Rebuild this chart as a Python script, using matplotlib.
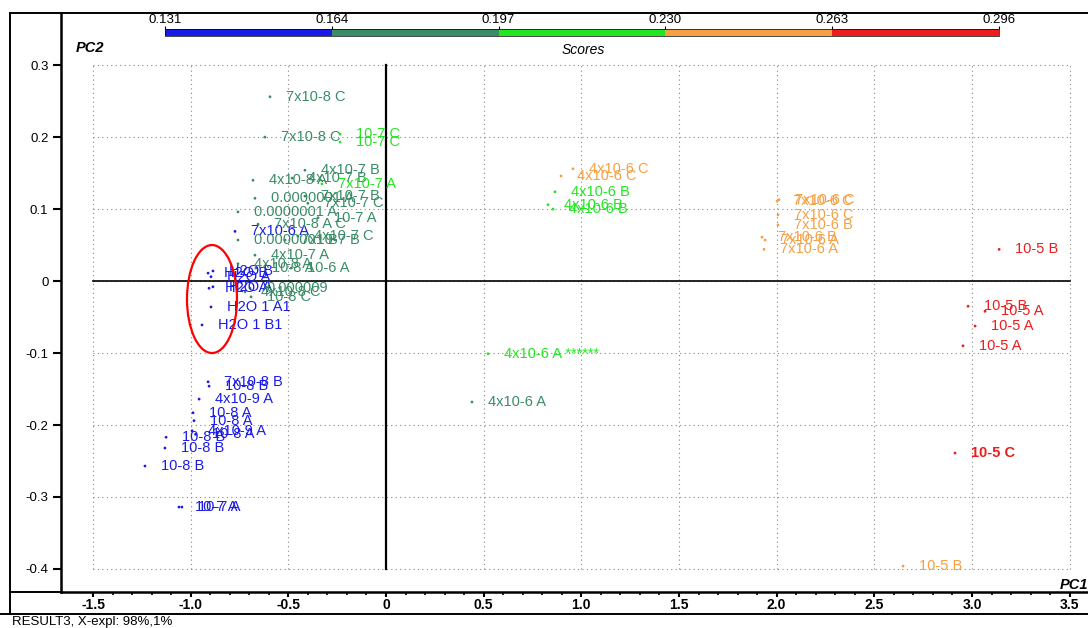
"""scores_plot.py
PCA scores plot (PC1 vs PC2), points coloured by score bins.
"""

import matplotlib
matplotlib.use("Agg")
import matplotlib.pyplot as plt
import numpy as np
from matplotlib.colors import ListedColormap, BoundaryNorm
from matplotlib.colorbar import ColorbarBase
from matplotlib.lines import Line2D
from matplotlib.patches import Ellipse

plt.rcParams["font.family"] = ["Liberation Sans", "DejaVu Sans"]

# score bins and colours
SCORE_BOUNDS = [0.131, 0.164, 0.197, 0.230, 0.263, 0.296]
SCORE_COLORS = ["#1b1be8", "#3a8c66", "#22e622", "#f5a043", "#ee1c1c"]

# ---- sample labels / PC1 / PC2 / score ----
LABELS = [
    # blue
    "7x10-6 A", "H2O B", "H2O B", "H2O A", "H2O A", "H2O A", "H2O 1 A1", "H2O 1 B1",
    "7x10-8 B", "10-8 B", "4x10-9 A", "10-8 A", "10-8 A", "4x10-9 A", "10-8 A",
    "10-8 B", "10-8 B", "10-8 B", "10-7 A", "10-7 A",
    # sea green
    "7x10-8 C", "7x10-8 C", "4x10-7 B", "4x10-8 A", "4x10-7 B", "0.0000001 A",
    "7x10-7 B", "7x10-7 C", "0.0000001 A", "10-7 A", "7x10-8 A C", "4x10-7 C",
    "0.0000001 B", "7x10-7 B", "4x10-7 A", "4x10-8 A", "10-8 A", "10-6 A",
    "0.000009", "4x10-8 C", "10-8 C", "4x10-6 A",
    # green
    "10-7 C", "10-7 C", "7x10-7 A", "4x10-6 B", "4x10-6 B", "4x10-6 B",
    "4x10-6 A ******",
    # orange
    "4x10-6 C", "4x10-6 C", "7x10-6 C", "7x10-6 C", "7x10-6 C", "7x10-6 B",
    "7x10-6 B", "7x10-6 A", "7x10-6 A", "10-5 B",
    # red
    "10-5 B", "10-5 B", "10-5 A", "10-5 A", "10-5 A", "10-5 C",
]
PC1 = [
    -0.773, -0.911, -0.886, -0.896, -0.906, -0.886, -0.896, -0.942,
    -0.911, -0.906, -0.957, -0.988, -0.983, -0.993, -0.975,
    -1.126, -1.132, -1.234, -1.060, -1.045,
    -0.594, -0.620, -0.415, -0.681, -0.481, -0.671,
    -0.415, -0.400, -0.758, -0.348, -0.655, -0.451,
    -0.758, -0.517, -0.671, -0.758, -0.666, -0.486,
    -0.696, -0.722, -0.691, 0.440,
    -0.235, -0.235, -0.328, 0.865, 0.829, 0.855,
    0.522,
    0.957, 0.896, 2.002, 2.012, 2.007, 2.007,
    1.925, 1.941, 1.935, 2.647,
    3.139, 2.980, 3.067, 3.016, 2.954, 2.913,
]
PC2 = [
    0.069, 0.011, 0.014, 0.006, -0.010, -0.008, -0.036, -0.061,
    -0.140, -0.146, -0.164, -0.183, -0.194, -0.208, -0.213,
    -0.217, -0.232, -0.257, -0.314, -0.314,
    0.256, 0.200, 0.154, 0.140, 0.143, 0.115,
    0.118, 0.108, 0.096, 0.088, 0.079, 0.0625,
    0.057, 0.057, 0.036, 0.024, 0.018, 0.018,
    -0.010, -0.015, -0.022, -0.168,
    0.204, 0.193, 0.135, 0.124, 0.106, 0.100,
    -0.101,
    0.156, 0.146, 0.111, 0.113, 0.092, 0.078,
    0.061, 0.057, 0.044, -0.396,
    0.044, -0.035, -0.042, -0.0625, -0.090, -0.239,
]
SCORES = (
    [0.145] * 20
    + [0.180] * 22
    + [0.212] * 7
    + [0.245] * 10
    + [0.280] * 6
)
BOLD_LABELS = {"10-5 C"}

W, H = 1088, 628


def fx(px):
    return px / W


def fy(py):
    return 1 - py / H


cmap = ListedColormap(SCORE_COLORS)
norm = BoundaryNorm(SCORE_BOUNDS, cmap.N)

fig = plt.figure(figsize=(W / 100, H / 100), dpi=100)
ax = fig.add_axes([fx(61), fy(592), fx(W) - fx(61), fy(14) - fy(592)])
ax.set_xlim(-1.664, 3.594)
ax.set_ylim(-0.432, 0.371)
for side in ("top", "right"):
    ax.spines[side].set_visible(False)
ax.spines["left"].set_linewidth(1.8)
ax.spines["bottom"].set_linewidth(1.8)

xticks = np.arange(-1.5, 3.51, 0.5)
yticks = np.arange(-0.4, 0.31, 0.1)
ax.set_xticks(xticks)
ax.set_xticklabels(["0" if abs(v) < 1e-9 else f"{v:.1f}" for v in xticks],
                   fontsize=10, fontweight="bold")
ax.set_xticks(np.arange(-1.5, 3.51, 0.1), minor=True)
ax.set_yticks(yticks)
ax.set_yticklabels(["0" if abs(v) < 1e-9 else f"{v:.1f}" for v in yticks],
                   fontsize=9.5)
ax.tick_params(axis="x", which="major", direction="out", length=3.5, width=1.5, pad=0.5)
ax.tick_params(axis="x", which="minor", direction="out", length=2.5, width=1.2)
ax.tick_params(axis="y", which="major", direction="out", length=6, width=1.5, pad=3)

# dotted grid, limited to the tick range
for xv in xticks:
    ax.plot([xv, xv], [-0.4, 0.3], ls=(0, (1, 3)), color="#888888", lw=0.8, zorder=0)
for yv in yticks:
    ax.plot([-1.5, 3.5], [yv, yv], ls=(0, (1, 3)), color="#888888", lw=0.8, zorder=0)

# origin cross
ax.plot([0, 0], [-0.4, 0.3], color="black", lw=1.6, zorder=1)
ax.plot([-1.5, 3.5], [0, 0], color="black", lw=1.2, zorder=1)

ax.scatter(PC1, PC2, c=SCORES, cmap=cmap, norm=norm, s=4, marker="o",
           linewidths=0, zorder=3)
for lab, x, y, s in zip(LABELS, PC1, PC2, SCORES):
    ax.annotate(lab, (x, y), xytext=(11.5, 0), textcoords="offset points",
                va="center", ha="left", fontsize=10.5, color=cmap(norm(s)),
                fontweight="bold" if lab in BOLD_LABELS else "normal", zorder=4)

ax.add_patch(Ellipse((-0.891, -0.025), width=0.256, height=0.150, fill=False,
                     edgecolor="red", lw=1.6, zorder=5))

# colour bar on top
cax = fig.add_axes([fx(165), fy(36), fx(999) - fx(165), fy(29) - fy(36)])
cb = ColorbarBase(cax, cmap=cmap, norm=norm, orientation="horizontal",
                  ticks=SCORE_BOUNDS, ticklocation="top")
cb.ax.set_xticklabels([f"{v:.3f}" for v in SCORE_BOUNDS], fontsize=9.5)
cb.ax.tick_params(length=2, width=0.8, pad=0.5)
cb.outline.set_linewidth(0.5)

fig.text(fx(90), fy(48), "PC2", fontsize=10.5, style="italic", fontweight="bold",
         ha="center", va="center")
fig.text(fx(583), fy(50), "Scores", fontsize=10, style="italic",
         ha="center", va="center")
fig.text(fx(1088), fy(585), "PC1", fontsize=10.5, style="italic", fontweight="bold",
         ha="right", va="center")
fig.text(fx(12), fy(622), "RESULT3, X-expl: 98%,1%", fontsize=9.5,
         ha="left", va="center")

# outer frame
frame = [
    ((fx(10), fx(W)), (fy(13), fy(13))),
    ((fx(10), fx(10)), (fy(13), fy(614))),
    ((fx(10), fx(61)), (fy(592), fy(592))),
    ((fx(0), fx(W)), (fy(614), fy(614))),
]
for xs, ys in frame:
    fig.add_artist(Line2D(xs, ys, color="black", lw=1.4, transform=fig.transFigure))

fig.savefig("out.png", dpi=100)
